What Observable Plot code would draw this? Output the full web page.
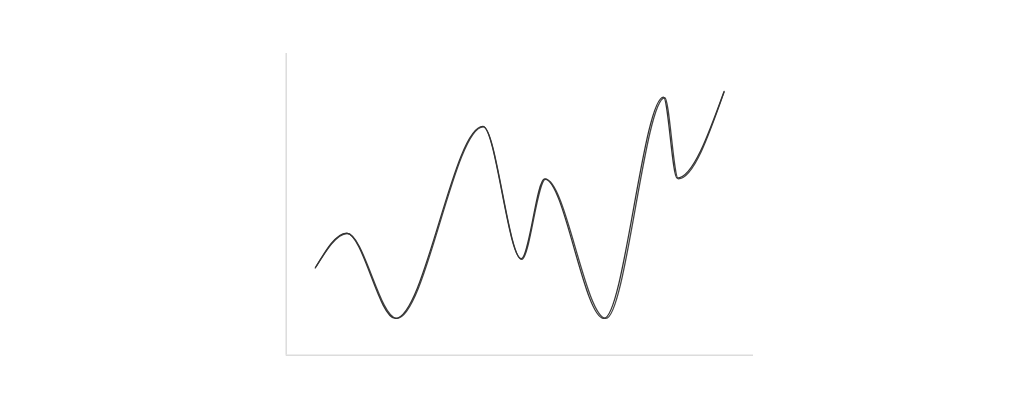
<!DOCTYPE html>
<html>
<head>
<meta charset="utf-8">
<script src="https://cdn.jsdelivr.net/npm/d3@7"></script>
<script src="https://cdn.jsdelivr.net/npm/@observablehq/plot@0.6"></script>
<style>
  html, body { margin: 0; padding: 0; background: #fff; }
  #chart { width: 1024px; height: 412px; }
</style>
</head>
<body>
<div id="chart"></div>
<script>
// Series A and B (nearly identical curves)
const xA = [0, 7.65, 19.6, 41.0, 50.4, 56.1, 70.6, 85.2, 88.5, 100];
const yA = [22.2, 37.6, 0, 84.6, 26.3, 61.5, 0, 97.5, 61.8, 100];
const xB = [0.2, 7.8, 19.9, 41.1, 50.5, 56.3, 71.1, 85.5, 88.8, 100];
const yB = [22.8, 37.4, 0, 84.4, 26.0, 61.3, 0, 97.2, 61.5, 99.7];

const xDomain = [-7.1, 107.2];
const yDomain = [-16.2, 116.7];

const dataA = xA.map((x, i) => ({x, y: yA[i]}));
const dataB = xB.map((x, i) => ({x, y: yB[i]}));

const chart = Plot.plot({
  width: 1024,
  height: 412,
  marginLeft: 285.7,
  marginRight: 271,
  marginTop: 53,
  marginBottom: 57.3,
  x: {domain: xDomain, axis: null},
  y: {domain: yDomain, axis: null},
  marks: [
    Plot.ruleX([xDomain[0]], {stroke: "#dcdcdc", strokeWidth: 1.5}),
    Plot.ruleY([yDomain[0]], {stroke: "#dcdcdc", strokeWidth: 1.5}),
    Plot.line(dataB, {x: "x", y: "y", curve: "monotone-x", stroke: "#444", strokeWidth: 1.3}),
    Plot.line(dataA, {x: "x", y: "y", curve: "monotone-x", stroke: "#333", strokeWidth: 1.3})
  ]
});
document.getElementById("chart").appendChild(chart);
</script>
</body>
</html>
